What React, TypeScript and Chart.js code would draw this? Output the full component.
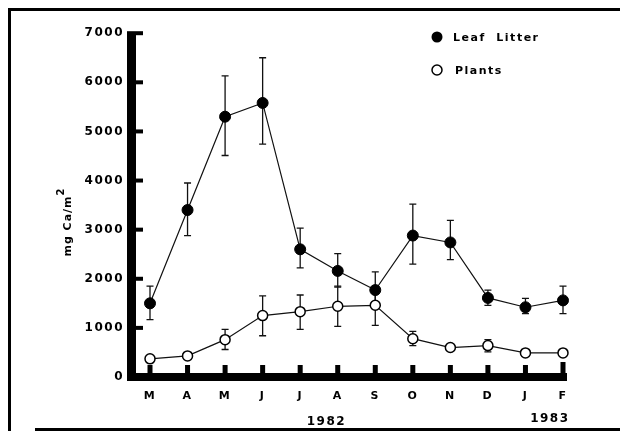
import React, { useEffect, useRef } from 'react';
import { Chart, registerables } from 'chart.js';
Chart.register(...registerables);

const months = ['M', 'A', 'M', 'J', 'J', 'A', 'S', 'O', 'N', 'D', 'J', 'F'];
const yTicks = [0, 1000, 2000, 3000, 4000, 5000, 6000, 7000];

const litter = [1500, 3400, 5300, 5580, 2600, 2160, 1770, 2880, 2740, 1610, 1420, 1560];
const litterLow = [1170, 2880, 4510, 4740, 2220, 1830, 1420, 2300, 2390, 1460, 1290, 1290];
const litterHigh = [1850, 3950, 6130, 6500, 3030, 2510, 2140, 3520, 3190, 1770, 1600, 1850];

const plants = [370, 430, 760, 1250, 1330, 1440, 1460, 780, 600, 640, 490, 490];
const plantsLow = [null, null, 560, 840, 970, 1030, 1050, 640, null, 510, null, null];
const plantsHigh = [null, null, 970, 1650, 1670, 1850, 1850, 930, null, 760, null, null];

const yearLabels = [
  { text: '1982', at: 4.7 },
  { text: '1983', at: 10.65 },
];

const FONT = "'DejaVu Sans', sans-serif";

export default function App() {
  const ref = useRef<HTMLCanvasElement>(null);

  useEffect(() => {
    const canvas = ref.current!;

    const spacing = {
      id: 'spacing',
      beforeDraw(chart: any) {
        chart.ctx.letterSpacing = '1.5px';
      },
    };

    const frame = {
      id: 'frame',
      beforeDatasetsDraw(chart: any) {
        const ctx = chart.ctx;
        const { left, right, top, bottom } = chart.chartArea;
        const x = chart.scales.x;
        const y = chart.scales.y;
        ctx.save();
        ctx.fillStyle = '#000';
        // outer frame
        ctx.fillRect(8, 8, 612, 3);
        ctx.fillRect(8, 8, 3, 423);
        ctx.fillRect(35, 428, 585, 3);
        // y axis
        const ax = left - 23;
        ctx.fillRect(ax, top - 2, 9, bottom - top + 6);
        yTicks.forEach((v) => {
          const py = y.getPixelForValue(v);
          ctx.fillRect(ax + 9, py - 2, 7, 4);
        });
        // x axis
        ctx.fillRect(ax, bottom - 4, right + 4 - ax, 8);
        months.forEach((_, i) => {
          const px = x.getPixelForValue(i);
          const h = i === months.length - 1 ? 11 : 8;
          ctx.fillRect(px - 2.5, bottom - 4 - h, 5, h);
        });
        // error bars
        const drawErr = (vals: number[], lo: (number | null)[], hi: (number | null)[]) => {
          ctx.strokeStyle = '#111';
          ctx.lineWidth = 1.3;
          vals.forEach((_, i) => {
            if (lo[i] == null || hi[i] == null) return;
            const px = x.getPixelForValue(i);
            const p1 = y.getPixelForValue(lo[i] as number);
            const p2 = y.getPixelForValue(hi[i] as number);
            ctx.beginPath();
            ctx.moveTo(px, p1);
            ctx.lineTo(px, p2);
            ctx.moveTo(px - 3.5, p1);
            ctx.lineTo(px + 3.5, p1);
            ctx.moveTo(px - 3.5, p2);
            ctx.lineTo(px + 3.5, p2);
            ctx.stroke();
          });
        };
        drawErr(plants, plantsLow, plantsHigh);
        drawErr(litter, litterLow, litterHigh);
        ctx.restore();
      },
      afterDraw(chart: any) {
        const ctx = chart.ctx;
        const x = chart.scales.x;
        ctx.save();
        ctx.fillStyle = '#000';
        ctx.strokeStyle = '#000';
        ctx.letterSpacing = '1.5px';
        ctx.font = `bold 11px ${FONT}`;
        ctx.textBaseline = 'middle';
        ctx.textAlign = 'left';
        // legend
        ctx.beginPath();
        ctx.arc(437, 37, 5.5, 0, Math.PI * 2);
        ctx.fill();
        ctx.fillText('Leaf  Litter', 453, 38);
        ctx.beginPath();
        ctx.lineWidth = 1.5;
        ctx.arc(437, 70, 5, 0, Math.PI * 2);
        ctx.stroke();
        ctx.fillText('Plants', 455, 71);
        // year labels
        ctx.textAlign = 'center';
        ctx.letterSpacing = '1.5px';
        ctx.font = `bold 12px ${FONT}`;
        yearLabels.forEach((yl) => {
          const px = x.getPixelForValue(yl.at);
          ctx.fillText(yl.text, px, yl.text === '1982' ? 422 : 419);
        });
        // y title
        ctx.translate(68, 222);
        ctx.rotate(-Math.PI / 2);
        ctx.letterSpacing = '1px';
        ctx.font = `bold 11px ${FONT}`;
        ctx.textAlign = 'left';
        const main = 'mg Ca/m';
        const w = ctx.measureText(main).width;
        const start = -(w + 8) / 2;
        ctx.fillText(main, start, 0);
        ctx.font = `bold 10px ${FONT}`;
        ctx.fillText('2', start + w, -7);
        ctx.restore();
      },
    };

    const chart = new Chart(canvas, {
      type: 'line',
      data: {
        labels: months,
        datasets: [
          {
            label: 'Leaf Litter',
            data: litter,
            borderColor: '#111',
            borderWidth: 1.2,
            pointRadius: 5.5,
            pointBackgroundColor: '#000',
            pointBorderColor: '#000',
            pointBorderWidth: 1,
            tension: 0,
            clip: false as any,
          },
          {
            label: 'Plants',
            data: plants,
            borderColor: '#111',
            borderWidth: 1.2,
            pointRadius: 5,
            pointBackgroundColor: '#fff',
            pointBorderColor: '#000',
            pointBorderWidth: 1.5,
            tension: 0,
            clip: false as any,
          },
        ],
      },
      options: {
        responsive: false,
        animation: false,
        events: [],
        layout: { padding: { left: 0, right: 57, top: 17, bottom: 0 } },
        plugins: { legend: { display: false }, tooltip: { enabled: false } },
        scales: {
          x: {
            type: 'category',
            offset: false,
            grid: { display: false, drawTicks: false },
            border: { display: false },
            ticks: {
              color: '#000',
              font: { family: FONT, size: 11, weight: 'bold' },
              padding: 13,
              autoSkip: false,
              maxRotation: 0,
            },
            afterFit(s: any) {
              s.height = 54;
            },
          },
          y: {
            min: 0,
            max: 7000,
            grid: { display: false, drawTicks: false },
            border: { display: false },
            ticks: {
              stepSize: 1000,
              color: '#000',
              font: { family: FONT, size: 12, weight: 'bold' },
              padding: 26,
              callback: (v: any) => String(v),
            },
            afterFit(s: any) {
              s.width = 150;
            },
          },
        },
      },
      plugins: [spacing, frame],
    });
    return () => chart.destroy();
  }, []);

  return (
    <div style={{ position: 'absolute', left: 0, top: 0, width: 620, height: 431, background: '#fff' }}>
      <canvas ref={ref} width={620} height={431} style={{ width: 620, height: 431, display: 'block' }} />
    </div>
  );
}
